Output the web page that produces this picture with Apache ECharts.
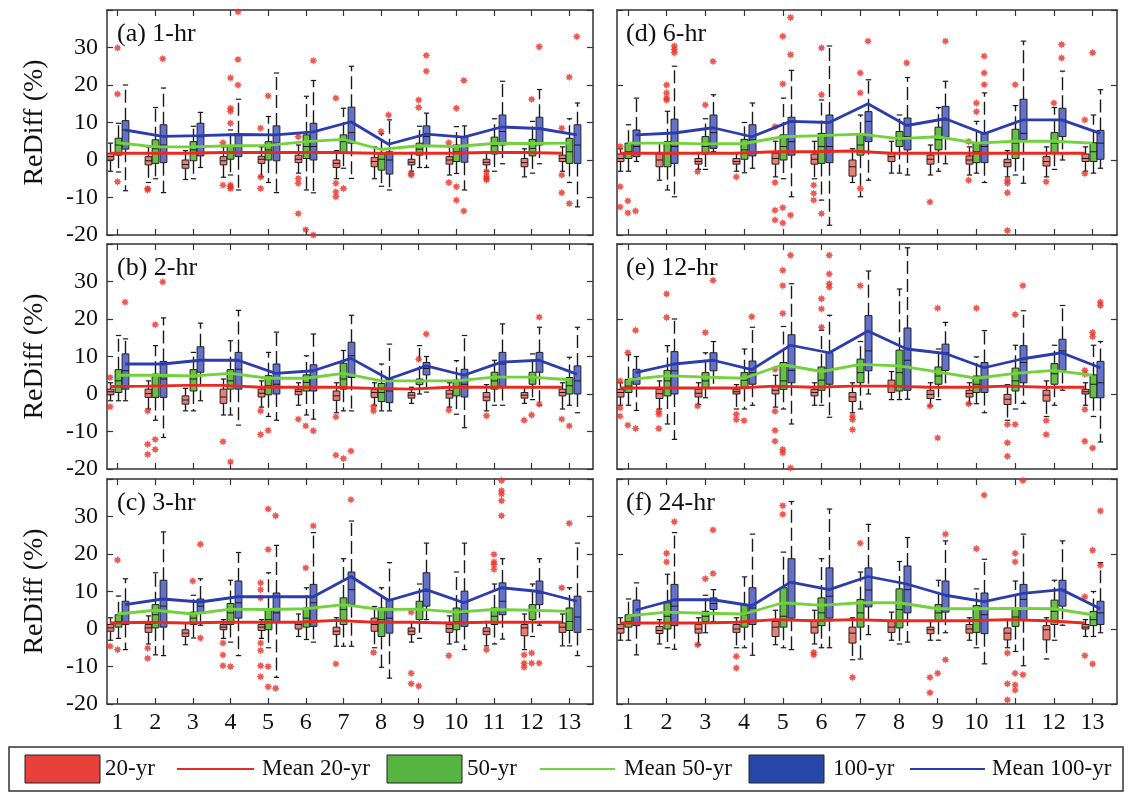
<!DOCTYPE html>
<html>
<head>
<meta charset="utf-8">
<title>ReDiff boxplots</title>
<script src="https://cdn.jsdelivr.net/npm/echarts@6.0.0/dist/echarts.min.js"></script>
<style>
  html, body { margin: 0; padding: 0; background: #fff; }
  #chart { width: 1129px; height: 794px; }
</style>
</head>
<body>
<div id="chart"></div>
<script>
  // x categories and y ticks
  var cats = [1, 2, 3, 4, 5, 6, 7, 8, 9, 10, 11, 12, 13];
  var yTicks = [-20, -10, 0, 10, 20, 30];

  // box data per category: [low whisker, q1, median, q3, high whisker]
  // (a) 1-hr
  var a20 = [[-3,0,0.9,1.8,4.5],[-6,-1.3,-0.2,0.9,3.5],[-5.2,-2.2,-1.2,0,2.5],[-4.6,-1.3,-0.2,0.9,3.5],[-4.5,-0.9,0.2,1,3.5],[-3.5,-0.7,0.2,1.3,4],[-5,-2,-0.9,0,2.5],[-5,-1.8,-0.4,0.7,3.5],[-3,-1.3,-0.6,0.2,2],[-4,-1.1,0,0.9,3.5],[-3,-1.3,-0.6,0.2,2],[-4.5,-1.8,-0.7,0.4,3],[-3,-0.4,0.4,1.3,3.5]];
  var a50 = [[-3.2,1.3,4,5.8,9.8],[-5,-0.9,3,5.4,14],[-5,-0.2,2.7,4.9,9],[-4,0.2,2,3.6,8],[-6,0,2.7,4.9,11.6],[-8,0.4,3.6,6.7,17],[-2.2,1.8,4.9,6.7,13.8],[-7,-2.7,0.2,1.6,7],[-2,1.3,2.9,4.5,9],[-3.6,-0.4,2.2,4,8.9],[-3,1.6,3.8,6.1,11],[-3.5,1.1,3.1,5.5,10.3],[-6,-0.9,2.2,5.8,11]];
  var a100 = [[-8.2,2.9,8,10.5,20],[-8.7,-0.7,4,9.4,19.2],[-2,1.1,6.2,9.8,12.7],[-8,0.9,3.6,7,16.2],[-8.7,-0.2,4.5,9.1,23.2],[-8.75,0,3.6,9.8,21.2],[-4.9,4.5,7.3,14.1,25],[-8,-3.75,0,2.2,10.7],[-2,3.6,6.25,9.1,12.5],[-8,-0.6,3.6,6.25,9.1],[-1,4,7.6,12,21],[-1,4,8.5,11.4,18.8],[-12.5,-0.9,4,9.4,15.2]];
  var aMean20 = [1.8,1.8,1.8,2,2,2,2,1.8,1.8,1.8,2,2,1.8];
  var aMean50 = [4.6,3.5,3.5,3.8,3.9,4.9,5.5,2.8,3.8,3.6,4.4,4.4,4.5];
  var aMean100 = [8,6.3,6.5,6.8,6.7,7.5,10.2,4.2,6.9,6.1,8.8,8.4,6.7];
  // outliers: [category, group (0=20-yr,1=50-yr,2=100-yr), value]
  var aOut = [[1,1,29.9],[1,1,17.6],[1,1,-5.8],[2,0,-7.6],[2,0,-8],[2,2,27],[4,1,21.9],[4,1,13.8],[4,1,13],[4,1,9.8],[4,1,-6.7],[4,1,-7.1],[4,1,-7.6],[4,0,-6.7],[4,2,26.8],[4,2,20],[4,2,39.5],[4,0,4.6],[5,1,17.1],[5,0,8.5],[5,0,-4.5],[5,0,-7.6],[6,0,6.2],[6,0,-4.9],[6,0,-6.2],[6,0,-14.3],[6,1,-18.6],[6,2,-20],[6,2,26.5],[7,0,16.5],[7,0,-6.2],[7,0,-8.5],[7,0,-9.8],[7,1,-7.6],[8,1,7.6],[8,2,12],[9,0,-3.6],[9,0,-4],[9,1,16],[9,1,14],[9,2,27.9],[9,2,23.7],[10,0,-6],[10,1,-7.1],[10,1,-10.7],[10,2,-13.6],[10,1,13.8],[10,2,21.2],[10,0,4.6],[11,0,-3.1],[11,0,-4.3],[11,0,-4.9],[11,0,-5.3],[12,1,16.2],[12,2,30.2],[13,0,8.5],[13,0,-4],[13,0,-8.75],[13,1,-11.6],[13,1,22.1],[13,2,32.9]];

  // (b) 2-hr
  var b20 = [[-1.8,-0.2,0.6,1.3,3],[-4,-0.9,0.1,1.3,3.5],[-4.5,-2.7,-1.6,-0.5,1.5],[-5.6,-2.5,-0.8,1.3,4],[-3.5,-0.8,0.2,1.3,3.5],[-3,-0.2,0.7,1.3,3],[-5,-1.7,-0.5,0.8,3],[-3,-0.9,0.4,1.3,3],[-2.5,-1.1,-0.3,0.4,1.8],[-3.5,-1.1,0,1,3],[-4.5,-1.8,-0.8,0.4,2.5],[-2.5,-1.1,-0.3,0.4,1.8],[-4,-0.5,0.4,1.3,3]];
  var b50 = [[-1.8,0.4,3.5,6.5,15.6],[-7,-0.9,2.2,5.3,12.9],[-4.5,0.8,4,6.5,11.1],[-5.6,1.3,3.5,6.5,14.2],[-6,-0.2,2.2,4.9,11.1],[-5.6,0.8,3.1,5.1,10.2],[-4.5,1.3,4,8.2,11.6],[-4.5,-2,0.4,2.8,8],[0,2.5,3.3,4,12.9],[-5.4,-0.5,1.7,3.7,8.9],[-3,1.3,3.5,5.8,9],[-1.5,2.6,4.4,5.8,10.7],[-3,0,2.2,4.4,9.8]];
  var b100 = [[-1.8,1.3,6.2,10.7,14.7],[-11.6,-0.9,4,8.7,20.3],[-1.8,5.8,9,12.6,18.9],[-8.3,1.3,6.6,11.1,22.3],[-7,0,2.6,8,16.5],[-6.7,0.8,4.4,7.8,16],[-4.5,4.4,10.2,13.8,21],[-4.5,-2.3,0.8,4,13.3],[0.5,5.1,6.8,8.4,10],[-9,-0.8,2.6,6.6,15.6],[-3,1.7,8,11.1,18.7],[-3,5.8,8.9,11.1,17.8],[-5,0,3.5,7.5,17.8]];
  var bMean20 = [2,2.1,2.3,2.3,1.8,1.8,1.8,1.5,1.3,1.8,1.8,1.8,1.8];
  var bMean50 = [5,5,4.8,5.5,4.2,4.2,5.5,3.5,3.5,3.5,4.5,4.5,3.8];
  var bMean100 = [8,8,9,9,5.5,6.2,9.5,4,7.5,5,8.5,9,5.3];
  var bOut = [[1,0,4.4],[1,0,-3.4],[1,2,24.5],[2,0,-4.5],[2,0,-13.4],[2,0,-16.1],[2,1,-12.1],[2,1,-14.8],[2,1,18.5],[2,2,29.9],[4,0,-12.7],[4,1,-18.1],[5,0,-4.5],[5,0,-10.8],[5,1,-9.7],[6,0,-6.7],[6,1,-8.5],[6,2,-9.8],[7,0,-6.1],[7,0,-16.3],[7,1,-17.2],[7,2,-15.2],[8,0,-3.4],[8,0,-4.5],[9,2,16],[9,1,9.3],[10,0,-4.3],[11,0,-5.8],[12,0,-7],[12,1,-5.6],[12,2,-2.7],[12,2,20.5],[13,0,-6.7],[13,1,-8.5]];

  // (c) 3-hr
  var c20 = [[-3,-0.6,0.3,1.2,3],[-4,-0.9,0.3,1.2,3.5],[-4.2,-2,-1.1,-0.2,1.5],[-2.5,-0.2,0.5,1.2,2.5],[-2.5,-0.4,0.5,1.2,2.5],[-2,0,1.2,2,4],[-4.6,-1.5,-0.6,0.5,3],[-5,-0.6,1.2,2.9,6],[-3.5,-1.5,-0.6,0.3,2],[-4,-0.9,0.1,1.2,3.5],[-4.5,-1.5,-0.6,0.3,2],[-5.5,-1.8,0.3,1.2,4],[-4.5,-0.9,0.5,1.6,4]];
  var c50 = [[-2.5,0.5,2,3.8,8.8],[-6.9,0.3,3.8,6.5,15],[-2.4,1.2,2.9,4.5,9],[-3.5,1.2,4.3,6.8,13],[-5,-0.2,2.5,5,15],[-2.8,0.5,2.9,5.6,11],[-4.6,1.2,5.2,8.3,18.75],[-10.2,-2,2.5,5.6,11],[-2.5,2.5,5.2,7.4,12],[-3.5,-0.2,2,5.6,15.2],[-4,1.2,3.4,5.6,12],[-2,2.5,4.7,6.5,12],[-4.5,-0.4,2,5.6,11]];
  var c100 = [[-5.5,1.2,4.3,7.4,13.4],[-7.1,0.5,6.1,13,25.9],[1,4.3,6.1,8,13.4],[-7.1,2.9,7,12.8,20.4],[-12.9,2,4.3,9.6,22.3],[-3.5,0.7,7,11.9,25.7],[-4.6,6.5,10.5,15.2,28.8],[-13.1,-1.1,2.9,7.9,17.7],[2.5,6.1,10.1,15,22.9],[-5.5,0.7,4.3,10.1,22.9],[-2.7,3.8,7.4,12.3,18.75],[1,6.5,9.6,12.8,18.75],[-7.1,-0.9,3.2,8.75,22.9]];
  var cMean20 = [1.6,1.8,1.6,1.8,1.8,1.8,2.3,1.8,1.8,1.6,1.8,1.8,1.8];
  var cMean50 = [4,5,4,5.3,5.2,5.4,6.5,5.2,5.3,4.5,5.2,5,4.7];
  var cMean100 = [6.5,8,7.2,8.6,8.6,8.6,14,7.6,10.5,7,11,10,7.4];
  var cOut = [[1,0,-4.6],[1,1,-5.5],[1,1,18.4],[2,0,-5.1],[2,0,-7.8],[3,1,12.8],[3,2,22.6],[3,2,-2.4],[4,0,-3.75],[4,0,-6.9],[4,0,-9.8],[4,1,-10],[5,0,10.5],[5,0,8.3],[5,0,12.3],[5,0,-3.75],[5,0,-5.7],[5,0,-9.8],[5,0,-12.7],[5,1,-15.4],[5,1,21.2],[5,1,32],[5,2,30.2],[5,2,-15.8],[5,1,-10],[6,1,16.3],[6,2,27.5],[7,0,-9.3],[7,2,34.5],[8,0,-6.25],[9,0,-11.8],[9,0,-14.6],[9,1,-15.2],[9,0,4.5],[10,0,-7.1],[11,0,-5.5],[11,1,19.9],[11,1,17.9],[11,1,17.2],[11,1,15.9],[11,2,39.6],[11,2,36.9],[11,2,36],[11,2,34.2],[11,2,30.2],[12,0,-6.9],[12,0,-9.1],[12,0,-10.2],[12,1,-9.1],[12,2,-9.1],[12,1,-6.4],[13,0,11],[13,1,28.2]];

  // (d) 6-hr
  var d20 = [[-3,-0.4,0.4,1.6,3],[-5.4,-1.8,0,1.6,4.5],[-2.5,-1.1,-0.4,0.4,2],[-3,-1.1,-0.4,0.4,2],[-4.5,-1.1,0.4,1.8,5],[-5,-1.1,0.2,1.6,5],[-6,-4.3,-1.8,0,3],[-3.5,-0.4,0.9,2,5],[-4,-1.1,0.2,1.3,4],[-4,-1.1,0,1.1,3.5],[-4.5,-1.8,-0.7,0.2,2.5],[-4.5,-1.6,-0.4,0.9,3.5],[-3,-0.4,0.4,1.6,3.5]];
  var d50 = [[-3,0.4,2.2,4.5,9.4],[-8,-1.8,1.8,4.9,13],[-2.5,1.6,3.6,6.25,11],[-3.4,0.2,2.7,5.5,10],[-5,0,3.6,6.7,16.5],[-10.7,-0.9,3.6,7.1,16],[-9.8,1.3,4,6.7,12],[-3.5,3.6,5.4,7.6,12],[-3,2.7,5.4,8.75,14],[-3.5,-0.7,2.2,4.6,10.3],[-4,0.4,4.5,8.2,14.5],[-2.5,1.8,4.5,7.3,14],[-3.5,-0.4,2.2,4.6,12]];
  var d100 = [[-0.4,0.9,3.6,8,16.5],[-9.8,-0.9,3.6,10.9,25],[2.2,3.1,7.3,12,17.4],[-2.2,1.1,5.4,9.4,15.2],[-9.8,1.3,4.9,11.4,23.9],[-17.4,-0.7,3.6,12,30.4],[-5.4,4.9,10.3,12.9,21.4],[-4,2.7,6.25,11.2,22],[-1,6.1,10.7,14.3,21],[-6,-0.7,3.6,7.3,17.9],[-6.2,5.4,7.1,16.2,31.7],[0,6.25,10.7,13.8,23.7],[-2.2,0.2,4.5,7.9,18.75]];
  var dMean20 = [1.8,1.8,1.8,1.8,2.2,2.2,2.4,1.8,1.8,1.8,1.8,1.8,1.8];
  var dMean50 = [4.5,4.5,4.3,4.4,6.2,6.5,6.9,5.7,6.2,4.5,5,5,4.5];
  var dMean100 = [6.7,7.2,8.6,6.2,10.3,10,15,9.2,11,7,10.7,10.7,7.1];
  var dOut = [[1,0,3.6],[1,0,-7.1],[1,0,-12.5],[1,1,-10.9],[1,1,-14.1],[1,2,-13.6],[2,1,20],[2,1,17.9],[2,1,16.5],[2,1,16],[2,2,30.4],[2,2,29.5],[2,2,28.6],[3,0,-3.1],[3,1,14.7],[3,2,26.3],[4,0,-4.5],[5,0,8.9],[5,0,-6],[5,0,-13.4],[5,0,-16],[5,1,33],[5,1,20.3],[5,1,-12.7],[5,1,-16.8],[5,2,38],[5,2,28.1],[5,2,-14.7],[6,0,-6.7],[6,0,-8.9],[6,0,-10.7],[6,1,29.9],[6,1,17.4],[6,1,-14.3],[7,1,-7.6],[7,1,23.2],[7,1,17.9],[7,2,31.7],[8,2,25.9],[9,0,-11.2],[9,2,31.7],[10,0,-5.4],[10,0,4.9],[10,1,12.9],[10,1,15.2],[10,2,27.7],[10,2,23.2],[10,2,20.1],[11,0,-5.4],[11,0,-6.2],[11,0,-8.75],[11,0,-18.8],[11,1,20.1],[12,0,-5.8],[12,1,15.2],[12,2,30.8],[12,2,27.2],[13,0,10.7],[13,0,-3.6],[13,1,28.6]];

  // (e) 12-hr
  var e20 = [[-3,-0.8,0.4,1.25,3],[-4,-1.2,0.1,1.25,3.5],[-2.8,-0.8,0.2,1.25,3],[-4,0,0.6,1.25,2.5],[-3.5,0,1,2.1,5],[-3,-0.5,0.4,1.25,3],[-5,-2,-0.8,0.4,3],[-1.5,0.4,2.1,3.7,6],[-3.2,-1.2,-0.1,1,3],[-2.6,-0.8,0.1,1,3],[-7,-2.8,-1.4,-0.1,2.5],[-6,-1.9,-0.3,1,3.5],[-3,0,0.6,1.25,3]];
  var e50 = [[-3,0.4,2.1,3.9,10.5],[-8,-0.5,3.5,6.3,12.9],[-1,1.7,3.5,5.7,11],[-4,1.5,3.7,5.7,12],[-4,1.25,3.5,8.4,18],[-3,1,3.7,7.2,17],[-4,3,5.7,9.3,14],[-1.5,0.8,5.7,11.7,28],[-1.5,2.6,4.8,7.2,12],[-2.6,0.4,2.6,4.8,9.9],[-4,0.8,3.5,6.9,13],[-3,2.6,5.4,8.1,13],[-6,-1,2.6,5.1,13]];
  var e100 = [[-4.4,2.6,4.4,6.6,10],[-12.1,0,6.2,11.3,20],[1.5,6.2,8.8,11,14],[-3,2.6,5.7,8.8,17.8],[-8,3,6.3,15.8,29.4],[-6.2,2.6,6.6,11,21],[0,6.2,11.5,20.9,32.8],[-1.4,1,9,17.6,39],[2,6.3,11,13.3,19.1],[-5,0.4,4.4,8.4,16.9],[-2.5,3,8.4,12.9,22.2],[1,6.3,11.5,14.6,23.6],[-12.8,-1,3,8.7,14]];
  var eMean20 = [1.6,1.6,1.6,1.6,2.1,1.8,2.1,2.1,1.8,1.8,2.1,1.8,1.8];
  var eMean50 = [3.8,4.9,4.5,4.2,7.8,6,7.9,7.5,5.9,4.2,5.5,6.3,5];
  var eMean100 = [5.7,8,9,6.5,13,11,16.8,12,10.8,7,9.4,11,7];
  var eOut = [[1,0,3.5],[1,0,-3.7],[1,0,-5.9],[1,1,11],[1,1,-8.3],[1,2,17],[1,2,-9.2],[2,0,-4.6],[2,0,-5.4],[2,0,-9.2],[2,1,26.7],[2,1,20.4],[3,0,-3.2],[3,1,16.4],[3,2,30.3],[4,0,-5.4],[4,0,-6.8],[4,1,-7.1],[4,2,20.6],[5,0,6.6],[5,0,-4.6],[5,0,-9.7],[5,0,-12.6],[5,1,21.5],[5,1,28.9],[5,1,33],[5,1,-14.8],[5,1,-15.7],[5,2,37],[5,2,-19.7],[6,1,17.8],[6,1,22.7],[6,1,25.4],[6,2,37],[6,2,32],[6,2,29.4],[6,2,28.5],[7,0,-5.9],[7,0,-6.8],[7,0,-9.5],[7,1,28.9],[9,0,-3.2],[9,1,22.9],[9,1,-11.7],[10,0,-2.6],[10,1,22.9],[11,0,-8.1],[11,0,-13],[11,0,-16.6],[11,1,-8.1],[11,1,21.2],[11,2,28.9],[12,0,-7.1],[12,0,-10.8],[13,0,6.3],[13,0,5.3],[13,0,-4.1],[13,0,-12.6],[13,1,-14.4],[13,1,16.4],[13,1,15.3],[13,2,24.5],[13,2,23.6]];

  // (f) 24-hr
  var f20 = [[-3,-1.1,0.1,1.2,3],[-4,-1.2,-0.4,0.7,2.5],[-4.2,-1.1,0,1.2,3],[-5,-0.9,0,1.2,3],[-4.2,-2,0.5,2,5],[-4,-1.1,0.5,2,5],[-8.2,-3.75,-1.1,0.5,3],[-3,-0.9,0.5,2,4.5],[-3,-1.25,-0.2,0.5,2],[-3,-1.1,0,1.2,3],[-5,-2.9,-1.1,0.3,2.5],[-8,-2.9,-0.2,0.9,3],[-2,0,0.5,1.2,2.5]];
  var f50 = [[-3,0.5,2,3.8,8],[-5,0,3.4,7,14.6],[-1,2,3.4,4.7,9],[-5,0.5,3.8,6.5,13.9],[-5,0.5,3.4,11,20.5],[-5,0.9,4.3,8.3,18.75],[-8,0.5,4.3,7.9,15.2],[-4,0.3,5.2,10.7,18],[-3,2,4.3,6.5,13],[-5,-0.9,2.5,6.25,10.7],[-6,0.7,3.2,5.6,12.8],[-3,1.2,4.7,7.7,13],[-2,0.9,2.5,4.7,10]];
  var f100 = [[-6.9,0.9,3.8,7.7,12.3],[-5.4,0.9,6.1,11.9,25.7],[2,5.2,6.8,8.3,10.5],[-7,1.2,5.6,11,25.3],[-5.5,2.9,7,18.75,34],[-5,2.9,8.75,16.3,32],[-1.5,5.9,10.4,16.3,27.9],[-3.5,4.3,10.5,16.8,24.4],[-1,4.5,9.2,12.8,23.5],[-9.3,-1.25,3.8,9.6,18.6],[-9.8,2.5,7.9,11.9,25.3],[1,6.1,10.5,13,23.5],[-1,1.2,4.3,7.4,17.7]];
  var fMean20 = [1.6,1.6,1.6,1.8,2.5,2.2,2.5,2.2,2.2,2.2,2.5,2.2,1.6];
  var fMean50 = [3.5,4.5,4.2,4,7,6.3,7,7,5.4,5.4,5.5,5.4,3.8];
  var fMean100 = [5,7.8,7.8,6.2,12.5,10.5,14,12,9,7.3,9.5,10.5,5.4];
  var fOut = [[2,1,20.2],[2,1,17.9],[2,2,28.6],[3,0,-4.2],[3,1,13.4],[3,2,26.4],[3,2,14.8],[4,0,-7.3],[4,0,-10.4],[5,1,32.9],[5,1,30.6],[6,0,-6.25],[6,0,-6.9],[7,0,-12.9],[7,1,22.9],[9,0,-12.9],[9,0,-17],[9,1,-11.8],[9,2,-8.2],[9,2,25.3],[10,1,21.4],[10,2,35.7],[11,0,-6.4],[11,0,-14.6],[11,0,-18.9],[11,1,-11.8],[11,1,-14.9],[11,1,-16.3],[11,1,20.2],[11,1,17.9],[11,2,-12.2],[11,2,39.6],[13,0,8.6],[13,0,-7.1],[13,1,-9.3],[13,1,21],[13,2,17],[13,2,31.5]];

  var seriesNames = ['20-yr', '50-yr', '100-yr'];
  var meanNames = ['Mean 20-yr', 'Mean 50-yr', 'Mean 100-yr'];

  var panels = [
    {title: '(a) 1-hr', box: [a20, a50, a100], mean: [aMean20, aMean50, aMean100], out: aOut},
    {title: '(b) 2-hr', box: [b20, b50, b100], mean: [bMean20, bMean50, bMean100], out: bOut},
    {title: '(c) 3-hr', box: [c20, c50, c100], mean: [cMean20, cMean50, cMean100], out: cOut},
    {title: '(d) 6-hr', box: [d20, d50, d100], mean: [dMean20, dMean50, dMean100], out: dOut},
    {title: '(e) 12-hr', box: [e20, e50, e100], mean: [eMean20, eMean50, eMean100], out: eOut},
    {title: '(f) 24-hr', box: [f20, f50, f100], mean: [fMean20, fMean50, fMean100], out: fOut}
  ];

  var FONT = '"Liberation Serif", "Times New Roman", serif';
  var AXIS = '#333';
  var OFFSET = [-0.2, 0, 0.2];
  var BOX_W = 0.18;
  var CAP_W = 0.14;
  var BOX_FILL = ['#ea7d74', '#66c048', '#6171cc'];
  var MEAN_COLOR = ['#ea2a20', '#72d23c', '#2a3cae'];
  var XMIN = 0.72, XMAX = 13.63;
  var TOPS = [10, 244, 479];
  var H = 225;

  function starPath() {
    var pts = [];
    for (var k = 0; k < 16; k++) {
      var a = Math.PI * k / 8, r = k % 2 ? 6 : 10;
      pts.push((r * Math.sin(a)).toFixed(2) + ',' + (-r * Math.cos(a)).toFixed(2));
    }
    return 'path://M' + pts.join(' L') + ' Z';
  }
  var STAR = starPath();

  function renderBox(params, api) {
    var slot = api.value(1);
    var x = api.value(0) + OFFSET[slot];
    var lo = api.coord([x, api.value(2)]);
    var q1 = api.coord([x, api.value(3)]);
    var md = api.coord([x, api.value(4)]);
    var q3 = api.coord([x, api.value(5)]);
    var hi = api.coord([x, api.value(6)]);
    var w = api.size([BOX_W, 0])[0];
    var cw = api.size([CAP_W, 0])[0];
    var cx = Math.round(lo[0]) + 0.5;
    var dash = {stroke: '#1a1a1a', lineWidth: 1.4, lineDash: [13, 5]};
    var solid = {stroke: '#1a1a1a', lineWidth: 1.2};
    return {
      type: 'group',
      children: [
        {type: 'line', shape: {x1: cx, y1: q3[1], x2: cx, y2: hi[1]}, style: dash},
        {type: 'line', shape: {x1: cx, y1: q1[1], x2: cx, y2: lo[1]}, style: dash},
        {type: 'line', shape: {x1: cx - cw / 2, y1: hi[1], x2: cx + cw / 2, y2: hi[1]}, style: solid},
        {type: 'line', shape: {x1: cx - cw / 2, y1: lo[1], x2: cx + cw / 2, y2: lo[1]}, style: solid},
        {type: 'rect', shape: {x: cx - w / 2, y: q3[1], width: w, height: q1[1] - q3[1]},
          style: {fill: BOX_FILL[slot], stroke: '#222', lineWidth: 1}},
        {type: 'line', shape: {x1: cx - w / 2, y1: md[1], x2: cx + w / 2, y2: md[1]}, style: {stroke: '#1a1a1a', lineWidth: 1}}
      ]
    };
  }

  var grids = [], xAxes = [], yAxes = [], titles = [], series = [];

  panels.forEach(function (p, i) {
    var col = i < 3 ? 0 : 1;
    var row = i % 3;
    var left = col === 0 ? 107 : 617;
    var width = col === 0 ? 486 : 500;
    grids.push({left: left, top: TOPS[row], width: width, height: H});
    titles.push({
      text: p.title, left: col === 0 ? 117 : 626, top: TOPS[row] + 11, padding: 0,
      textStyle: {fontFamily: FONT, fontSize: 26, fontWeight: 'normal', color: '#111'}
    });

    var tickStyle = {show: true, inside: true, length: 6, lineStyle: {color: AXIS, width: 1.2}};
    var lineStyle = {show: true, onZero: false, lineStyle: {color: AXIS, width: 1.5}};
    ['bottom', 'top'].forEach(function (pos) {
      xAxes.push({
        type: 'value', gridIndex: i, position: pos, min: XMIN, max: XMAX,
        axisLine: lineStyle,
        axisTick: Object.assign({customValues: cats}, tickStyle),
        axisLabel: {
          show: pos === 'bottom' && row === 2, customValues: cats, margin: 7,
          fontFamily: FONT, fontSize: 24, color: '#111'
        },
        splitLine: {show: false}
      });
    });
    ['left', 'right'].forEach(function (pos) {
      var labelled = pos === 'left' && col === 0;
      yAxes.push({
        type: 'value', gridIndex: i, position: pos, min: -20, max: 40,
        interval: col === 0 ? 10 : 20,
        name: labelled ? 'ReDiff (%)' : '', nameLocation: 'middle', nameGap: 58,
        nameTextStyle: {fontFamily: FONT, fontSize: 28, color: '#111'},
        axisLine: lineStyle,
        axisTick: tickStyle,
        axisLabel: {
          show: labelled, margin: 9, fontFamily: FONT, fontSize: 24, color: '#111',
          customValues: yTicks
        },
        splitLine: {show: false}
      });
    });

    var boxData = [];
    p.box.forEach(function (arr, s) {
      arr.forEach(function (b, k) {
        boxData.push([cats[k], s, b[0], b[1], b[2], b[3], b[4]]);
      });
    });
    series.push({
      type: 'custom', xAxisIndex: i * 2, yAxisIndex: i * 2, clip: true,
      renderItem: renderBox, data: boxData, z: 2,
      encode: {x: 0, y: [2, 6]}
    });
    series.push({
      type: 'scatter', xAxisIndex: i * 2, yAxisIndex: i * 2, clip: true,
      symbol: STAR, symbolSize: 8, z: 3,
      itemStyle: {color: '#ea2f28'},
      data: p.out.map(function (o) { return [o[0] + OFFSET[o[1]], o[2]]; })
    });
    p.mean.forEach(function (m, s) {
      series.push({
        type: 'line', name: meanNames[s], xAxisIndex: i * 2, yAxisIndex: i * 2,
        showSymbol: false, symbol: 'none', z: 4,
        lineStyle: {color: MEAN_COLOR[s], width: 2.8},
        data: m.map(function (v, k) { return [cats[k] + OFFSET[s], v]; })
      });
    });
  });

  // legend row drawn as graphics
  var legendY = 769;
  var legend = [
    {type: 'rect', shape: {x: 9, y: 747, width: 1114, height: 44},
      style: {fill: '#fff', stroke: '#333', lineWidth: 1.5}}
  ];
  var patchX = [25, 387, 749];
  var labelX = [105, 467, 833];
  var lineX = [[177, 254], [540, 615], [910, 985]];
  var meanX = [262, 624, 992];
  var PATCH = ['#e8403a', '#56b441', '#2747a8'];
  for (var s = 0; s < 3; s++) {
    legend.push({type: 'rect', shape: {x: patchX[s], y: 755, width: 75, height: 28},
      style: {fill: PATCH[s], stroke: '#222', lineWidth: 1}});
    legend.push({type: 'text', x: labelX[s], y: legendY,
      style: {text: seriesNames[s], fontFamily: FONT, fontSize: 23, fill: '#111', verticalAlign: 'middle'}});
    legend.push({type: 'line', shape: {x1: lineX[s][0], y1: legendY, x2: lineX[s][1], y2: legendY},
      style: {stroke: MEAN_COLOR[s], lineWidth: 2}});
    legend.push({type: 'text', x: meanX[s], y: legendY,
      style: {text: meanNames[s], fontFamily: FONT, fontSize: 23, fill: '#111', verticalAlign: 'middle'}});
  }

  var chart = echarts.init(document.getElementById('chart'));
  chart.setOption({
    animation: false,
    backgroundColor: '#fff',
    title: titles,
    grid: grids,
    xAxis: xAxes,
    yAxis: yAxes,
    series: series,
    graphic: legend
  });
  window.addEventListener('resize', function () { chart.resize(); });
</script>
</body>
</html>
